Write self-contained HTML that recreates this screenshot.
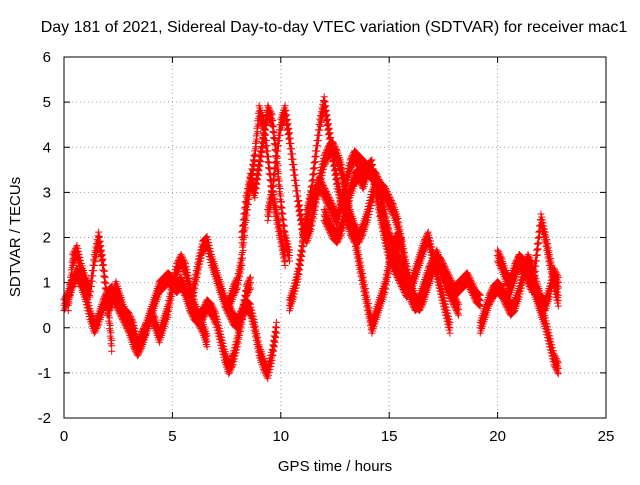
<!DOCTYPE html>
<html><head><meta charset="utf-8"><style>
body{margin:0;background:#fff}
svg text{font-family:"Liberation Sans",sans-serif;font-size:15px;fill:#000}
</style></head><body>
<svg width="640" height="480" xmlns="http://www.w3.org/2000/svg">
<rect width="640" height="480" fill="#fff"/>
<text x="334" y="32" text-anchor="middle" style="font-size:16px">Day 181 of 2021, Sidereal Day-to-day VTEC variation (SDTVAR) for receiver mac1</text>
<g id="grid"></g>
<g id="ticks"></g>
<g id="marks"></g>
<rect x="64" y="57" width="542" height="361" fill="none" stroke="#000" stroke-width="1"/>
<text x="20" y="237" text-anchor="middle" transform="rotate(-90 20 237)">SDTVAR / TECUs</text>
<text x="335" y="471" text-anchor="middle">GPS time / hours</text>
</svg>
<script>
const xTicks=[0,5,10,15,20,25];
const yTicks=[-2,-1,0,1,2,3,4,5,6];
const step=0.2;
const trackStarts=[0,0.2,2.0,5.8,7.6,8.2,9.4,10.4,11,12,14.6,19.2,20,20.4];
const t1=[0.5,0.7,1.0,1.2,1.0,0.7,0.3,0.0,0.2,0.5,0.7,0.8,0.6,0.4,0.2,0.0,-0.3,-0.5,-0.3,0.0,0.3,0.6,0.9,1.0,1.1,1.0,0.9,1.0,0.8,0.5,0.3,0.2,0.3,0.5,0.4,0.2,-0.2,-0.6,-0.9,-0.7,-0.3,0.2,0.8,1.0];
const t2=[0.5,1.5,1.7,1.3,1.0,0.8,1.5,2.0,1.4,0.6,-0.4];
const t3=[0.4,0.6,0.9,0.6,0.3,0.2,0.0,-0.4,-0.2,0.0,0.3,0.1,-0.2,0.1,0.4,0.9,1.3,1.5,1.3,0.9,0.5,0.2,0.0,-0.3];
const t4=[0.5,0.9,1.4,1.8,1.9,1.5,1.2,0.9,0.6,0.4,0.2,0.1,0.3,0.5,0.4,0.0,-0.5,-0.8,-1.0,-0.6,0.0];
const t5=[0.5,0.8,1.0,1.5,2.5,3.2,3.8,4.8,4.5,3.8,3.0,2.5,2.0,1.5];
const t6=[2.0,2.8,3.3,3.0,3.6,4.2,4.8,4.6,3.8,2.8,2.0,1.6];
const t7=[2.5,3.0,3.8,4.5,4.8,4.2,3.5,2.8,2.2,2.0,2.3,2.8,3.3,3.7,3.9,4.0,3.8,3.5,3.0,2.5,2.2,2.0,2.2,2.5,2.9,3.2,3.0,2.5,2.0,1.6,1.3,1.4];
const t8=[0.5,0.8,1.2,1.8,2.5,3.0,3.8,4.5,5.0,4.4,3.8,3.2,2.8,2.5,2.2,2.0,1.5,1.0,0.5,0.0,0.3,0.6,0.9,1.4,1.8,2.0,1.8];
const t9=[2.0,2.4,2.8,3.0,3.2,3.0,2.8,2.6,2.4,2.8,3.2,3.6,3.8,3.7,3.6,3.5,3.4,3.3,3.1,3.0,2.8,2.6,2.3,1.8,1.3,0.9,0.6,0.5,0.7,1.0,1.3,1.5,1.4,1.2,1.0,0.8,0.9,1.0,1.1,0.9,0.7,0.6];
const t10=[2.5,2.3,2.1,2.0,2.2,2.6,3.0,3.3,3.4,3.2,3.5,3.6,3.0,2.5,2.0,1.6,1.4,1.2,1.0,0.8,0.9,1.2,1.5,1.8,2.0,1.6,1.2,0.8,0.4,0.0];
const t11=[2.6,2.3,2.0,1.8,1.6,1.3,1.0,0.7,0.5,0.6,0.9,1.2,1.4,1.6,1.3,1.0,0.8,0.6,0.4];
const t12=[0.0,0.3,0.6,0.8,0.9,0.8,0.6,0.4,0.5,0.8,1.2,1.5,1.3,0.9,0.6,0.5,0.8,1.2,1.0];
const t13=[1.6,1.4,1.1,1.0,1.3,1.5,1.4,1.2,1.0,0.7,0.4,0.1,-0.3,-0.7,-0.9];
const t14=[0.6,0.9,1.2,1.5,1.3,1.1,0.9,1.6,2.4,2.0,1.5,1.0,0.6];
const tracks=[t1,t2,t3,t4,t5,t6,t7,t8,t9,t10,t11,t12,t13,t14];
const NS="http://www.w3.org/2000/svg";
const L=64,R=606,T=57,B=418;
const xs=v=>L+(v-0)/(25-0)*(R-L);
const ys=v=>B-(v+2)/8*(B-T);
const grid=document.getElementById('grid'),ticks=document.getElementById('ticks'),marks=document.getElementById('marks');
function mk(tag,a,p){const e=document.createElementNS(NS,tag);for(const k in a)e.setAttribute(k,a[k]);p.appendChild(e);return e;}
xTicks.forEach(v=>{const x=xs(v);
 if(v>0&&v<25){const g=mk('line',{x1:x,x2:x,y1:T,y2:B,stroke:'#a0a0a0','stroke-dasharray':'1,3'},grid);
 
 }
 const tk=mk('path',{d:`M${x},${B}v-6M${x},${T}v6`,stroke:'#000'},ticks);
 
 
 const t=mk('text',{x:x,y:B+23,'text-anchor':'middle'},ticks);t.textContent=v;
 
 });
yTicks.forEach(v=>{const y=ys(v);
 if(v>-2&&v<6){const g=mk('line',{x1:L,x2:R,y1:y,y2:y,stroke:'#a0a0a0','stroke-dasharray':'1,3'},grid);
 
 }
 const tk=mk('path',{d:`M${L},${y}h6M${R},${y}h-6`,stroke:'#000'},ticks);
 
 
 const t=mk('text',{x:L-13,y:y+5,'text-anchor':'end'},ticks);t.textContent=v;
 
 });
const offsets=[0,0.12,-0.12];
tracks.forEach((tr,i)=>{let d='';
 offsets.forEach(off=>{
 tr.forEach((v,j)=>{const x=xs(trackStarts[i]+j*step),y=ys(v+off);d+=`M${x-3.5},${y}h7M${x},${y-3.5}v7`;
  if(j<tr.length-1){const x2=xs(trackStarts[i]+(j+1)*step),y2=ys(tr[j+1]+off);
   for(let k=1;k<6;k++){const xm=x+(x2-x)*k/6,ym=y+(y2-y)*k/6;d+=`M${xm-3.5},${ym}h7M${xm},${ym-3.5}v7`;}}});});
 const p=mk('path',{d:d,stroke:'#ff0000','stroke-width':1,fill:'none'},marks);
 
 });
</script>
</body></html>
